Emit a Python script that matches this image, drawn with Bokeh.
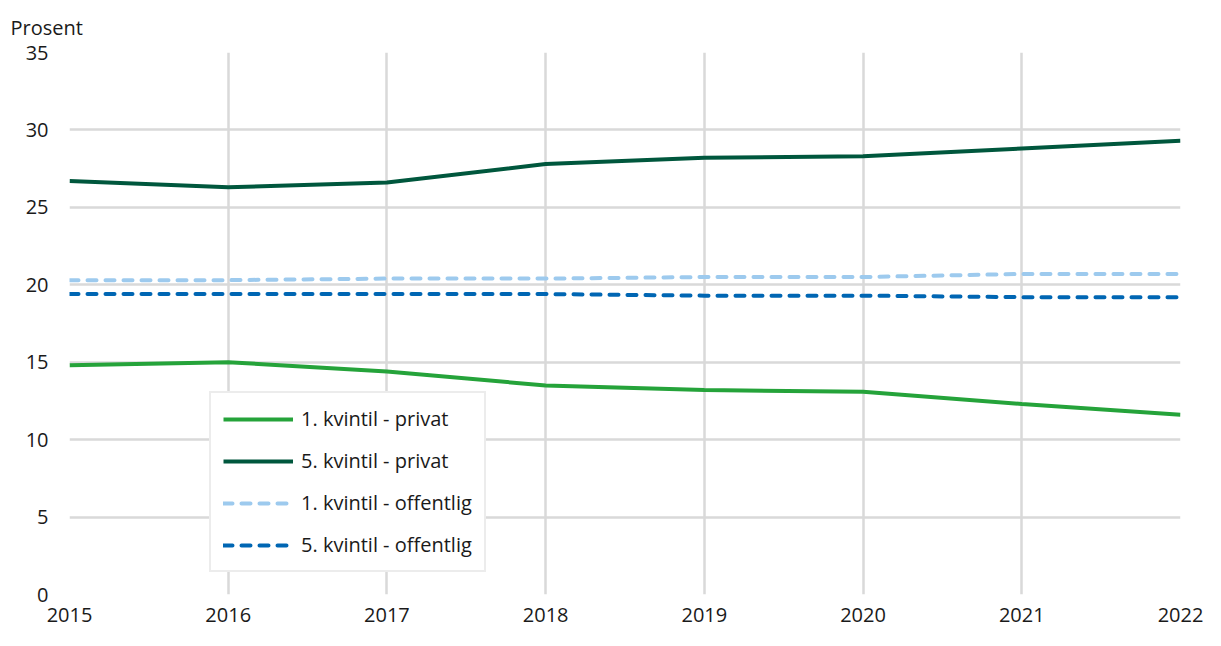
from bokeh.plotting import figure
from bokeh.models import Range1d, FixedTicker, Legend, LegendItem
from bokeh.embed import file_html
from bokeh.resources import INLINE

years = [2015, 2016, 2017, 2018, 2019, 2020, 2021, 2022]
k1_privat = [14.8, 15.0, 14.4, 13.5, 13.2, 13.1, 12.3, 11.6]
k5_privat = [26.7, 26.3, 26.6, 27.8, 28.2, 28.3, 28.8, 29.3]
k1_offentlig = [20.3, 20.3, 20.4, 20.4, 20.5, 20.5, 20.7, 20.7]
k5_offentlig = [19.4, 19.4, 19.4, 19.4, 19.3, 19.3, 19.2, 19.2]
y_ticks = [0, 5, 10, 15, 20, 25, 30, 35]
series_names = ["1. kvintil - privat", "5. kvintil - privat",
                "1. kvintil - offentlig", "5. kvintil - offentlig"]

FONT = "Open Sans"
GRID = "#d9d9d9"
TEXT = "#1a1a1a"

p = figure(width=1205, height=630, output_backend="svg", toolbar_location=None,
           x_range=Range1d(2015, 2022), y_range=Range1d(0, 35),
           min_border_left=69, min_border_right=25, min_border_top=52, min_border_bottom=36)
p.outline_line_color = None
p.background_fill_color = "white"
p.border_fill_color = "white"

p.title.text = "Prosent"
p.title.text_font = FONT
p.title.text_font_size = "20px"
p.title.text_font_style = "normal"
p.title.text_color = TEXT
p.title.align = "left"
p.title.vertical_align = "top"
p.title.offset = -59
p.title.standoff = 20

for ax in (p.xaxis[0], p.yaxis[0]):
    ax.axis_line_color = None
    ax.major_tick_line_color = None
    ax.minor_tick_line_color = None
    ax.major_tick_out = 0
    ax.major_tick_in = 0
    ax.minor_tick_out = 0
    ax.major_label_text_font = FONT
    ax.major_label_text_font_size = "20px"
    ax.major_label_text_color = TEXT

p.xaxis.ticker = FixedTicker(ticks=years)
p.yaxis.ticker = FixedTicker(ticks=y_ticks)
p.xaxis.major_label_standoff = 13
p.yaxis.major_label_standoff = 21

p.xgrid.grid_line_color = GRID
p.ygrid.grid_line_color = GRID
p.xgrid.grid_line_width = 2.5
p.ygrid.grid_line_width = 2.5

r1 = p.line(years, k1_privat, line_color="#25a33a", line_width=4)
r2 = p.line(years, k5_privat, line_color="#00573d", line_width=4)
r3 = p.line(years, k1_offentlig, line_color="#9dcaee", line_width=4,
            line_dash="9 9", line_cap="round")
r4 = p.line(years, k5_offentlig, line_color="#0066b3", line_width=4,
            line_dash="9 9", line_cap="round")

legend = Legend(items=[LegendItem(label=n, renderers=[r]) for n, r in
                       zip(series_names, [r1, r2, r3, r4])],
                location=(140, 22))
legend.label_text_font = FONT
legend.label_text_font_size = "20px"
legend.label_text_color = TEXT
legend.glyph_width = 70
legend.glyph_height = 20
legend.label_height = 20
legend.spacing = 15
legend.padding = 12
legend.margin = 0
legend.label_standoff = 8
legend.border_line_color = GRID
legend.border_line_width = 2.5
legend.background_fill_alpha = 1
p.add_layout(legend, "center")

open("out.html", "w").write(file_html(p, INLINE))
